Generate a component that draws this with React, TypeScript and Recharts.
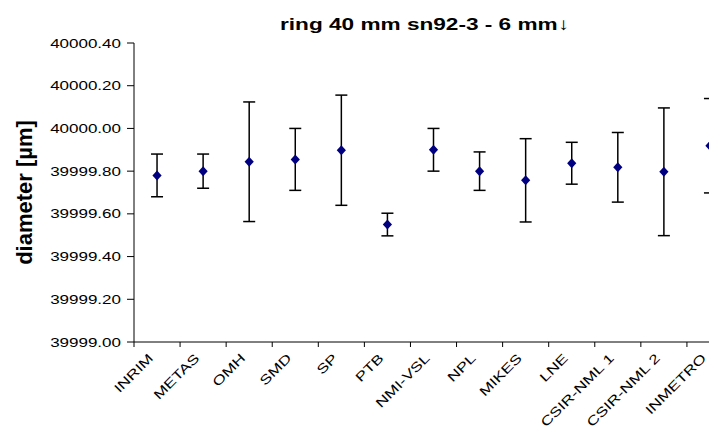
import React from "react";
import {
    ComposedChart,
    ErrorBar,
    Label,
    Scatter,
    XAxis,
    YAxis,
} from "recharts";

const labs = [
    "INRIM",
    "METAS",
    "OMH",
    "SMD",
    "SP",
    "PTB",
    "NMI-VSL",
    "NPL",
    "MIKES",
    "LNE",
    "CSIR-NML 1",
    "CSIR-NML 2",
    "INMETRO",
];
const diameters = [
    39999.78, 39999.8, 39999.844, 39999.855, 39999.898, 39999.55, 39999.9,
    39999.8, 39999.757, 39999.837, 39999.818, 39999.797, 39999.919,
];
const uncertainties = [
    0.1, 0.08, 0.28, 0.145, 0.258, 0.053, 0.1, 0.09, 0.195, 0.098, 0.163, 0.299,
    0.221,
];
const yTicks = [39999.0, 39999.2, 39999.4, 39999.6, 39999.8, 40000.0, 40000.2, 40000.4];
// centre ticks carry the lab names, half-way ticks carry the tick marks
const xTicks = [
    ...labs.map((_, i) => i - 0.5),
    labs.length - 0.5,
    ...labs.map((_, i) => i),
].sort((a, b) => a - b);

const data = labs.map((lab, i) => ({
    x: i,
    lab,
    d: diameters[i],
    u: uncertainties[i],
}));

const FONT = "'Liberation Sans', Arial, sans-serif";

const Diamond = ({ cx, cy }: any) => (
    <path
        d={`M${cx},${cy - 5}L${cx + 4.6},${cy}L${cx},${cy + 5}L${cx - 4.6},${cy}Z`}
        fill="#000080"
    />
);

const YTick = ({ x, y, payload }: any) => (
    <g transform={`translate(${x},${y}) scale(1.36,1)`}>
        <text textAnchor="end" dy="0.36em" fontSize={12.5} fontFamily={FONT} fill="#000">
            {Number(payload.value).toFixed(2)}
        </text>
    </g>
);

// labels are stretched along their baseline like the original export
const XTick = ({ x, y, payload }: any) => {
    const v = payload.value;
    if (!Number.isInteger(v)) {
        return <line x1={x} x2={x} y1={y} y2={y + 5} stroke="#000" />;
    }
    return (
        <g transform={`translate(${x - 3},${y + 17})`}>
            <text
                transform="rotate(-45) scale(1.33,1)"
                textAnchor="end"
                fontSize={13}
                fontFamily={FONT}
                fill="#000"
            >
                {labs[v]}
            </text>
        </g>
    );
};

export default function App() {
    return (
        <div
            style={{
                position: "absolute",
                left: 0,
                top: 0,
                width: 709,
                height: 433,
                overflow: "hidden",
                background: "#fff",
            }}
        >
            <div
                style={{
                    position: "absolute",
                    left: 0,
                    width: 849,
                    top: 16,
                    textAlign: "center",
                    fontFamily: FONT,
                    fontWeight: 700,
                    fontSize: 17,
                    lineHeight: "17px",
                    transform: "scaleX(1.33)",
                    whiteSpace: "nowrap",
                }}
            >
                ring 40 mm sn92-3 - 6 mm↓
            </div>
            <ComposedChart
                width={760}
                height={433}
                data={data}
                margin={{ top: 43, right: 27, left: 0, bottom: 0 }}
            >
                <XAxis
                    type="number"
                    dataKey="x"
                    domain={[-0.5, labs.length - 0.5]}
                    ticks={xTicks}
                    interval={0}
                    tick={<XTick />}
                    height={91}
                    tickSize={0}
                    tickMargin={0}
                    axisLine={{ stroke: "#000" }}
                    tickLine={false}
                />
                <YAxis
                    type="number"
                    domain={[39999.0, 40000.4]}
                    ticks={yTicks}
                    interval={0}
                    width={134}
                    tickSize={7}
                    tickMargin={6}
                    tick={<YTick />}
                    axisLine={{ stroke: "#000" }}
                    tickLine={{ stroke: "#000" }}
                >
                    <Label
                        value="diameter [µm]"
                        angle={-90}
                        position="insideLeft"
                        offset={24}
                        style={{
                            textAnchor: "middle",
                            fontWeight: 700,
                            fontSize: 22,
                            fontFamily: FONT,
                            fill: "#000",
                        }}
                    />
                </YAxis>
                <Scatter
                    dataKey="d"
                    shape={<Diamond />}
                    isAnimationActive={false}
                >
                    <ErrorBar
                        dataKey="u"
                        direction="y"
                        width={6}
                        stroke="#000"
                        strokeWidth={1.5}
                        isAnimationActive={false}
                    />
                </Scatter>
            </ComposedChart>
        </div>
    );
}
